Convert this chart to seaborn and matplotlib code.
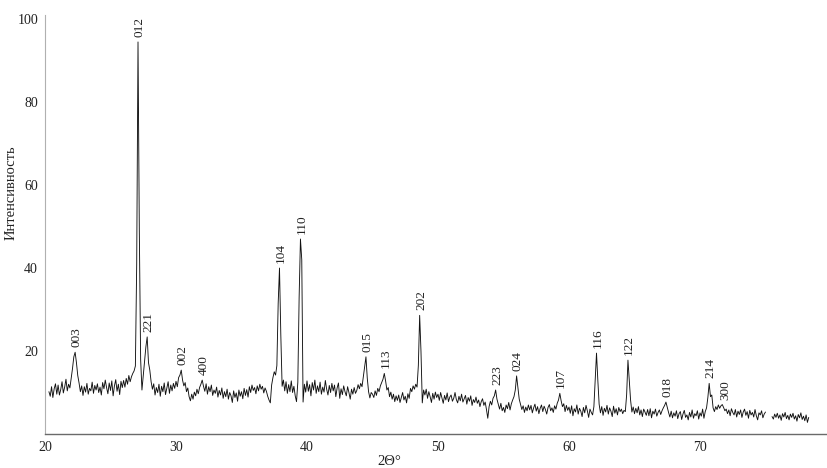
import numpy as np
import pandas as pd
import matplotlib
matplotlib.use("Agg")
import matplotlib.pyplot as plt
import seaborn as sns

# ---------------- data ----------------
START_2THETA = 20.3
STEP_2THETA = 0.1
intensity = [
    10.2, 9.1, 11.4, 8.8, 10.9, 12.1, 9.6,                          # 20.3-20.9
    11.8, 9.4, 10.7, 12.6, 9.9, 11.3, 13.2, 10.4, 12.0, 11.1,       # 21
    13.4, 15.8, 18.6, 19.7, 17.2, 14.1, 12.3, 10.2, 11.6, 9.3,      # 22
    11.4, 10.1, 12.2, 9.6, 11.0, 10.4, 12.5, 9.8, 11.7, 10.6,       # 23
    12.1, 10.0, 11.3, 9.4, 12.4, 10.9, 13.0, 11.2, 9.7, 12.3,       # 24
    10.5, 12.8, 9.2, 11.6, 13.1, 10.3, 12.0, 9.5, 12.7, 11.2,       # 25
    12.9, 11.3, 13.4, 12.0, 14.1, 12.6, 13.8, 14.6, 15.2, 16.4,     # 26
    41.0, 94.5, 49.0, 18.0, 10.6, 14.2, 17.5, 21.0, 23.4, 17.2,     # 27
    15.4, 12.6, 10.8, 12.1, 9.4, 11.2, 10.0, 12.0, 9.1, 11.5,       # 28
    10.2, 12.3, 9.5, 11.0, 12.6, 9.8, 11.8, 10.4, 12.2, 11.0,       # 29
    12.7, 11.4, 13.6, 14.2, 15.4, 13.0, 11.6, 12.4, 10.2, 11.1,     # 30
    9.0, 8.0, 9.6, 8.4, 10.1, 9.2, 10.8, 9.7, 11.2, 12.0,           # 31
    13.0, 11.5, 10.3, 12.1, 9.6, 11.4, 10.2, 11.8, 9.3, 10.6,       # 32
    9.8, 11.3, 8.9, 10.5, 9.4, 11.1, 8.6, 10.2, 9.0, 10.8,          # 33
    8.4, 10.0, 9.2, 7.6, 10.4, 8.8, 9.9, 7.9, 10.6, 9.1,            # 34
    10.2, 8.5, 11.0, 9.3, 10.7, 8.9, 11.4, 10.0, 11.8, 10.5,        # 35
    11.2, 9.7, 11.6, 10.4, 12.0, 10.8, 11.5, 9.9, 11.1, 10.3,       # 36
    9.1, 8.2, 7.5, 11.8, 13.6, 15.0, 14.2, 16.5, 31.5, 40.0,        # 37
    24.0, 11.5, 13.0, 10.4, 12.6, 9.8, 11.9, 10.2, 12.8, 10.0,      # 38
    11.5, 9.2, 7.8, 12.5, 33.0, 47.0, 42.0, 7.7, 12.0, 10.1,        # 39
    12.8, 10.3, 11.9, 9.2, 12.4, 10.6, 13.0, 9.8, 11.6, 10.2,       # 40
    12.5, 9.6, 11.3, 10.1, 12.9, 10.8, 9.4, 11.7, 10.0, 12.2,       # 41
    10.4, 11.8, 9.0, 11.1, 12.3, 8.6, 10.9, 9.5, 11.6, 10.2,        # 42
    9.2, 11.4, 10.0, 8.4, 10.8, 9.6, 11.2, 9.8, 10.5, 11.9,         # 43
    10.9, 12.2, 11.4, 13.8, 16.2, 18.6, 13.5, 10.2, 8.7, 10.0,      # 44
    9.6, 8.8, 10.4, 9.3, 11.0, 10.2, 11.6, 12.4, 13.2, 14.6,        # 45
    12.8, 10.6, 11.2, 9.0, 10.1, 8.4, 9.6, 7.8, 9.2, 8.1,           # 46
    9.4, 7.6, 8.8, 10.0, 8.2, 9.1, 7.5, 9.7, 8.6, 11.0,             # 47
    10.2, 11.6, 10.8, 12.0, 11.3, 16.5, 28.6, 20.0, 7.5, 10.6,      # 48
    9.4, 10.8, 8.6, 10.2, 9.0, 7.6, 9.8, 8.4, 10.1, 8.8,            # 49
    9.6, 8.1, 10.0, 8.7, 7.4, 9.3, 8.2, 9.9, 7.8, 8.9,              # 50
    9.4, 7.9, 8.6, 10.0, 8.3, 7.5, 9.1, 8.0, 9.6, 7.7,              # 51
    8.5, 9.3, 7.2, 8.8, 7.9, 9.2, 6.9, 8.3, 7.6, 8.9,               # 52
    7.4, 8.2, 6.6, 7.8, 8.5, 6.9, 7.7, 5.9, 3.8, 6.6,               # 53
    7.9, 7.0, 8.6, 9.2, 10.6, 8.4, 7.2, 6.0, 7.4, 5.6,              # 54
    6.4, 5.2, 7.0, 6.1, 7.6, 5.8, 7.3, 8.2, 9.0, 10.6,              # 55
    14.0, 11.2, 8.4, 7.1, 5.9, 6.8, 5.2, 6.5, 5.6, 7.0,             # 56
    5.8, 6.9, 5.1, 6.3, 7.2, 5.5, 6.6, 4.9, 6.2, 7.0,               # 57
    5.4, 6.7, 5.9, 4.8, 6.4, 7.1, 5.6, 6.3, 5.2, 6.8,               # 58
    6.0, 7.4, 8.2, 9.8, 8.0, 6.6, 7.3, 5.4, 6.9, 5.7,               # 59
    6.5, 5.0, 6.8, 4.4, 6.1, 5.3, 7.0, 4.8, 6.2, 5.5,               # 60
    4.2, 6.4, 5.1, 6.9, 5.6, 4.0, 6.0, 5.2, 4.6, 6.6,               # 61
    12.8, 19.5, 13.0, 7.2, 5.1, 6.6, 4.5, 6.2, 5.3, 6.9,            # 62
    4.8, 6.3, 5.5, 4.2, 6.7, 5.0, 6.1, 4.6, 6.4, 5.4,               # 63
    6.0, 4.9, 5.7, 5.4, 9.5, 17.8, 13.0, 8.2, 5.3, 6.5,             # 64
    4.9, 6.2, 5.1, 6.6, 4.6, 5.8, 4.2, 6.0, 5.3, 4.5,               # 65
    5.9, 4.4, 6.1, 3.9, 5.5, 4.8, 6.0, 4.3, 5.2, 5.8,               # 66
    4.7, 5.6, 6.3, 6.9, 7.7, 6.4, 5.2, 4.1, 5.5, 3.9,               # 67
    5.1, 4.3, 5.6, 3.7, 4.9, 5.4, 3.5, 4.8, 5.7, 4.0,               # 68
    4.6, 3.4, 5.2, 4.1, 5.8, 3.8, 4.9, 4.4, 5.6, 3.6,               # 69
    5.1, 4.3, 6.0, 3.8, 5.4, 6.3, 8.8, 12.2, 9.0, 9.4,              # 70
    6.3, 5.4, 6.6, 5.9, 7.0, 6.2, 6.8, 7.1, 6.4, 5.6,               # 71
    6.0, 4.9, 5.8, 4.4, 6.1, 5.2, 4.6, 5.9, 4.1, 5.5,               # 72
    4.7, 5.8, 4.0, 5.3, 6.0, 4.5, 5.4, 3.8, 5.7, 4.6,               # 73
    5.2, 4.1, 5.9, 4.4, 3.4, 5.1, 4.6, 5.6, 3.9, 4.8,               # 74
    5.3, np.nan, np.nan, np.nan, np.nan, 4.2, 3.6, 4.8, 4.0, 5.0,   # 75
    3.8, 4.6, 3.3, 4.9, 4.1, 5.2, 3.7, 4.5, 3.4, 4.8,               # 76
    4.0, 5.0, 3.6, 4.4, 3.1, 4.7, 3.9, 5.1, 3.5, 4.3,               # 77
    3.2, 4.6, 2.8, 4.0,                                             # 78.0-78.3
]

peak_labels = ["003", "012", "221", "002", "400", "104", "110", "015", "113",
               "202", "223", "024", "107", "116", "122", "018", "214", "300"]
peak_2theta = [22.3, 27.1, 27.8, 30.4, 32.0, 37.9, 39.5, 44.5, 45.9,
               48.6, 54.4, 56.0, 59.3, 62.1, 64.5, 67.4, 70.7, 71.8]

x_ticks = [20, 30, 40, 50, 60, 70]
y_ticks = [20, 40, 60, 80, 100]
x_label = "2Θ°"
y_label = "Интенсивность"

# ---------------- build table ----------------
intensity = np.array(intensity, dtype=float)
two_theta = START_2THETA + STEP_2THETA * np.arange(len(intensity))
segment = np.cumsum(np.isnan(intensity))
df = pd.DataFrame({"two_theta": two_theta, "intensity": intensity,
                   "segment": segment}).dropna()

# ---------------- style ----------------
sns.set_theme(style="white")
plt.rcParams["font.family"] = ["Liberation Serif", "DejaVu Serif"]

fig = plt.figure(figsize=(8.27, 4.68), dpi=100)
W, H = 827, 468
ax = fig.add_axes([45 / W, 34 / H, (W - 45) / W, 419 / H])

sns.lineplot(data=df, x="two_theta", y="intensity", units="segment",
             estimator=None, color="#111111", linewidth=0.65, ax=ax,
             legend=False)

ax.set_xlim(20, 20 + (W - 45) / 13.1)
ax.set_ylim(0, 101)
ax.set_xticks(x_ticks)
ax.set_xticklabels([str(t) for t in x_ticks])
ax.set_yticks(y_ticks)
ax.set_yticklabels([str(t) for t in y_ticks])
ax.tick_params(axis="x", direction="in", length=4, width=0.8, color="#888888",
               labelsize=10, pad=5, labelcolor="#222222")
ax.tick_params(axis="y", length=0, labelsize=10, pad=5, labelcolor="#222222")

for s in ["top", "right"]:
    ax.spines[s].set_visible(False)
ax.spines["left"].set_color("#b0b0b0")
ax.spines["left"].set_linewidth(0.8)
ax.spines["bottom"].set_color("#6a6a6a")
ax.spines["bottom"].set_linewidth(1.0)

ax.set_xlabel(x_label, fontsize=10.5, color="#222222")
ax.set_ylabel(y_label, fontsize=10.5, color="#222222")
ax.xaxis.set_label_coords(0.44, -0.049)
ax.yaxis.set_label_coords(-0.0345, 0.576)

# peak labels
for lab, pos in zip(peak_labels, peak_2theta):
    win = (df["two_theta"] > pos - 0.15) & (df["two_theta"] < pos + 0.15)
    top = df.loc[win, "intensity"].max()
    ax.text(pos + 0.1, top + 1.2, lab, rotation=90, ha="center", va="bottom",
            fontsize=9.5, color="#222222")

fig.savefig("out.png", dpi=100)
